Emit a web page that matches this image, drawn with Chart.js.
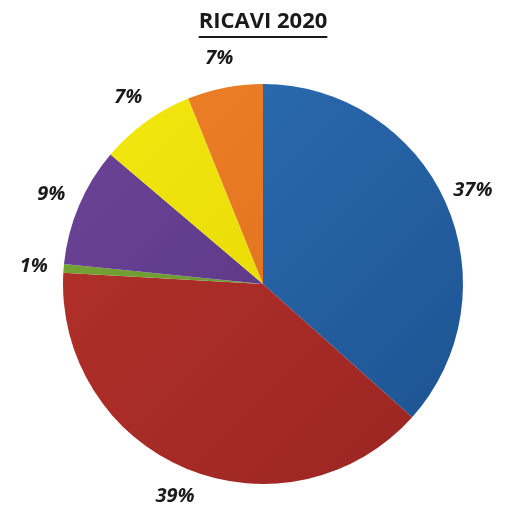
<!DOCTYPE html>
<html>
<head>
<meta charset="utf-8">
<script src="https://cdn.jsdelivr.net/npm/chart.js@4/dist/chart.umd.min.js"></script>
<style>
  html, body { margin: 0; padding: 0; background: #fff; }
  #wrap { position: relative; width: 518px; height: 506px; }
</style>
</head>
<body>
<div id="wrap"><canvas id="pie"></canvas></div>
<script>
// dati (senso orario dall'alto)
const titolo = "RICAVI 2020";
const voci = ["A", "B", "C", "D", "E", "F"];
const valori = [36.6, 39.3, 0.7, 9.6, 7.7, 6.1];
const etichette = ["37%", "39%", "1%", "9%", "7%", "7%"];
const colori = ["#2e70b6", "#b7322c", "#7aa83a", "#6c4498", "#f3e810", "#ee8128"];
const coloriScuri = ["#1c5290", "#992522", "#5f8a26", "#55327b", "#e2d200", "#d96a18"];

function sfumatura(ctx) {
  const ch = ctx.chart, a = ch.chartArea;
  if (!a) return colori[ctx.dataIndex];
  const g = ch.ctx.createLinearGradient(a.left, a.top, a.right, a.bottom);
  g.addColorStop(0, colori[ctx.dataIndex]);
  g.addColorStop(1, coloriScuri[ctx.dataIndex]);
  return g;
}

const testi = {
  id: "testi",
  afterDraw(chart) {
    const c = chart.ctx;
    c.save();
    // titolo sottolineato
    c.font = "bold 22px 'Open Sans', sans-serif";
    c.fillStyle = "#1a1a1a";
    c.textAlign = "center";
    c.textBaseline = "middle";
    c.fillText(titolo, 263, 22);
    const w = c.measureText(titolo).width;
    c.fillRect(263 - w / 2, 36, w, 2);
    // percentuali fuori dalla torta
    c.font = "italic bold 20px 'Open Sans', sans-serif";
    chart.getDatasetMeta(0).data.forEach((arc, i) => {
      const p = arc.getProps(["x", "y", "startAngle", "endAngle", "outerRadius"], true);
      const m = (p.startAngle + p.endAngle) / 2;
      const r = p.outerRadius + 30;
      c.fillText(etichette[i], p.x + Math.cos(m) * r, p.y + Math.sin(m) * r);
    });
    c.restore();
  }
};

new Chart(document.getElementById("pie"), {
  type: "pie",
  data: { labels: voci, datasets: [{ data: valori, backgroundColor: sfumatura, borderWidth: 0 }] },
  options: {
    responsive: true, maintainAspectRatio: false, animation: false,
    layout: { padding: { top: 84, bottom: 22, left: 62, right: 54 } },
    plugins: { legend: { display: false }, tooltip: { enabled: false } }
  },
  plugins: [testi]
});
</script>
</body>
</html>
